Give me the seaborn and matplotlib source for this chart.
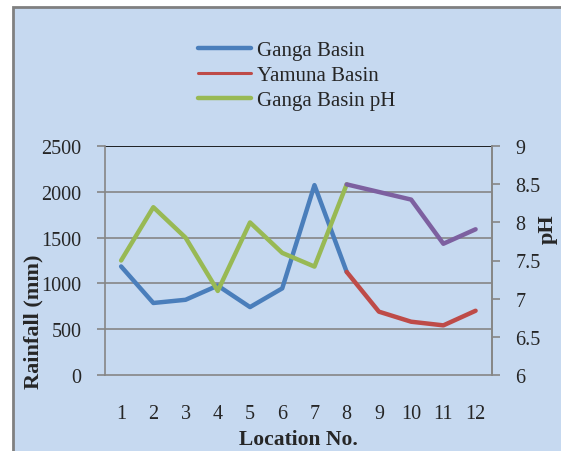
import numpy as np
import pandas as pd
import seaborn as sns
import matplotlib.pyplot as plt
from matplotlib.patches import Rectangle
from matplotlib.lines import Line2D

locations = list(range(1, 13))
ganga_loc = [1, 2, 3, 4, 5, 6, 7, 8]
ganga_rain = [1185, 785, 820, 975, 740, 945, 2075, 1125]
yamuna_loc = [8, 9, 10, 11, 12]
yamuna_rain = [1125, 690, 580, 540, 700]
ganga_ph = [7.5, 8.2, 7.8, 7.1, 8.0, 7.6, 7.42, 8.5]
yamuna_ph = [8.5, 8.4, 8.3, 7.72, 7.91]

bg = "#C6D9F0"
c_ganga = "#4A7EBB"
c_yamuna = "#BE4B48"
c_gph = "#98B954"
c_yph = "#7D60A0"
grid_c = "#868686"

sns.set_style("white")
plt.rcParams['font.family'] = ['Liberation Serif', 'DejaVu Serif']

fig = plt.figure(figsize=(5.61, 4.52), dpi=100)
fig.patch.set_facecolor("white")
fig.patches.append(Rectangle((12.5 / 561, -0.01), 1.0, (452 - 8) / 452 + 0.01,
                             transform=fig.transFigure, facecolor=bg,
                             edgecolor="#808080", linewidth=2.0, zorder=-5))

# plot area in pixels: x 105..491.7, y 147.3..375.7
ax = fig.add_axes([105 / 561, 1 - 375.7 / 452, (491.7 - 105) / 561, (375.7 - 147.3) / 452])
ax.patch.set_alpha(0)

df_g = pd.DataFrame({"loc": ganga_loc, "val": ganga_rain})
df_y = pd.DataFrame({"loc": yamuna_loc, "val": yamuna_rain})
sns.lineplot(data=df_g, x="loc", y="val", ax=ax, color=c_ganga, lw=3.2, zorder=3)
sns.lineplot(data=df_y, x="loc", y="val", ax=ax, color=c_yamuna, lw=3.2, zorder=3)

ax.set_ylim(0, 2500)
ax.set_yticks([0, 500, 1000, 1500, 2000, 2500])
ax.set_xlim(0.5, 12.5)
ax.set_xticks(np.arange(0.5, 13, 1))
ax.set_xticklabels([])
ax.set_xticks(locations, minor=True)
ax.set_xticklabels([str(l) for l in locations], minor=True)
for v in [500, 1000, 1500, 2000]:
    ax.axhline(v, color=grid_c, lw=1.2, zorder=1)
ax.axhline(2500, color="black", lw=1.2, zorder=1)

ax.tick_params(axis="x", which="major", length=5, width=1.2, color=grid_c, direction="out")
ax.tick_params(axis="x", which="minor", length=0, pad=21, labelsize=14.5)
ax.tick_params(axis="y", length=6, width=1.2, color=grid_c, direction="out", labelsize=14.5, pad=11)
for s in ["left", "bottom", "right"]:
    ax.spines[s].set_color(grid_c)
    ax.spines[s].set_linewidth(1.2)
ax.spines["top"].set_visible(False)

ax.set_xlabel("Location No.", fontsize=15.5, fontweight="bold")
ax.xaxis.set_label_coords(0.5, -(440 - 375.7) / 228.4, transform=ax.transAxes)
ax.xaxis.label.set_va("center")
ax.set_ylabel("Rainfall (mm)", fontsize=16, fontweight="bold")
ax.yaxis.set_label_coords(-(105 - 33) / 386.7, (375.7 - 322) / 228.4)
ax.yaxis.label.set_va("center")

ax2 = ax.twinx()
ax2.patch.set_alpha(0)
df_gp = pd.DataFrame({"loc": ganga_loc, "val": ganga_ph})
df_yp = pd.DataFrame({"loc": yamuna_loc, "val": yamuna_ph})
sns.lineplot(data=df_gp, x="loc", y="val", ax=ax2, color=c_gph, lw=3.2)
sns.lineplot(data=df_yp, x="loc", y="val", ax=ax2, color=c_yph, lw=3.2)
ax2.set_ylim(6, 9)
ax2.set_yticks([6, 6.5, 7, 7.5, 8, 8.5, 9])
ax2.set_yticklabels(["6", "6.5", "7", "7.5", "8", "8.5", "9"])
ax2.tick_params(axis="y", length=6, width=1.2, color=grid_c, direction="out", labelsize=14.5, pad=11)
for s in ["left", "bottom", "top"]:
    ax2.spines[s].set_visible(False)
ax2.spines["right"].set_color(grid_c)
ax2.spines["right"].set_linewidth(1.2)
ax2.set_ylabel("pH", fontsize=16, fontweight="bold")
ax2.yaxis.set_label_coords((548 - 105) / 386.7, (375.7 - 229) / 228.4)
ax2.yaxis.label.set_va("center")
ax2.set_xlabel("")

handles = [Line2D([], [], color=c_ganga, lw=3.2),
           Line2D([], [], color=c_yamuna, lw=2.2),
           Line2D([], [], color=c_gph, lw=3.2)]
fig.legend(handles, ["Ganga Basin", "Yamuna Basin", "Ganga Basin pH"],
           loc="upper left", bbox_to_anchor=(179 / 561, 1 - 23 / 452), frameon=False,
           fontsize=15, handlelength=2.55, handletextpad=0.3, labelspacing=0.25)

fig.savefig("out.png", dpi=100, facecolor="white")
